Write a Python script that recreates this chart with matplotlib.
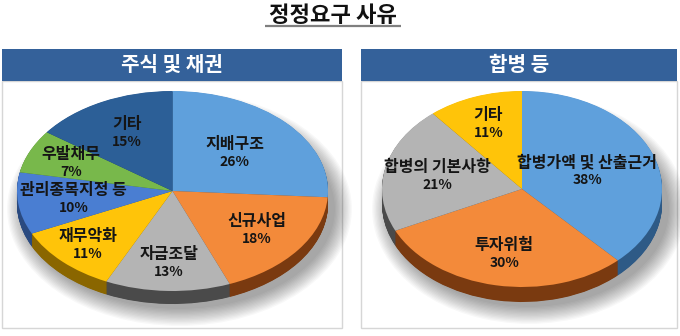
import matplotlib
matplotlib.use("Agg")
import matplotlib.pyplot as plt
from matplotlib.patches import Ellipse, Rectangle
import numpy as np

plt.rcParams["font.family"] = ["Noto Sans CJK KR", "DejaVu Sans"]

W, H = 680, 336

TITLE = "정정요구 사유"

# 주식 및 채권
STOCK_TITLE = "주식 및 채권"
stock_labels = ["지배구조", "신규사업", "자금조달", "재무악화", "관리종목지정 등", "우발채무", "기타"]
stock_share = [26, 18, 13, 11, 10, 7, 15]
stock_top = ["#5fa0dc", "#f38a3a", "#b4b4b4", "#ffc409", "#4a7ed2", "#78b84b", "#2c5f97"]
stock_side = ["#2e5a86", "#7a3a10", "#4a4a4a", "#8a6600", "#2a4a80", "#3e6a24", "#1a3a60"]

# 합병 등
MERGER_TITLE = "합병 등"
merger_labels = ["합병가액 및 산출근거", "투자위험", "합병의 기본사항", "기타"]
merger_share = [38, 30, 21, 11]
merger_top = ["#5fa0dc", "#f38a3a", "#b4b4b4", "#ffc409"]
merger_side = ["#2e5a86", "#7a3a10", "#4a4a4a", "#8a6600"]

HEADER_BLUE = "#34619a"


def px_axes(fig, x0, y0, x1, y1):
    # axes placed by pixel box, y measured from the top
    return fig.add_axes([x0 / W, 1 - y1 / H, (x1 - x0) / W, (y1 - y0) / H])


def draw_pie(fig, cx, cy, rx, ry, depth, values, labels, tops, sides, label_r):
    pad = 26
    ax = px_axes(fig, cx - rx - pad, cy - ry - pad, cx + rx + pad, cy + ry + depth + pad)
    ax.set_axis_off()
    d = depth / ry

    # soft drop shadow under the disc
    for i in range(14):
        g = 1.3 * i
        ax.add_patch(Ellipse((7 / rx, -d - 5 / ry), 2 * (rx + g) / rx, 2 * (ry + g) / ry,
                             color="black", alpha=0.026, lw=0, zorder=0))

    # extruded side: stack darker discs downward
    n = 30
    for k in range(n, 0, -1):
        ax.pie(values, colors=sides, startangle=90, counterclock=False,
               center=(0, -d * k / n), wedgeprops=dict(linewidth=0))
    wedges, _ = ax.pie(values, colors=tops, startangle=90, counterclock=False,
                       wedgeprops=dict(linewidth=0))

    ax.set_aspect("auto")
    ax.set_xlim(-1 - pad / rx, 1 + pad / rx)
    ax.set_ylim(-1 - d - pad / ry, 1 + pad / ry)

    for w, name, v, r in zip(wedges, labels, values, label_r):
        a = np.deg2rad((w.theta1 + w.theta2) / 2)
        x, y = r * np.cos(a), r * np.sin(a)
        ax.annotate(name, (x, y), xytext=(0, 9), textcoords="offset pixels",
                    ha="center", va="center", fontsize=11.5, fontweight="bold", color="#151515")
        ax.annotate(f"{v}%", (x, y), xytext=(0, -9), textcoords="offset pixels",
                    ha="center", va="center", fontsize=10, fontweight="bold", color="#151515")
    return ax


fig = plt.figure(figsize=(W / 100, H / 100), dpi=100)
bg = fig.add_axes([0, 0, 1, 1])
bg.set_xlim(0, W)
bg.set_ylim(H, 0)
bg.set_axis_off()

# title with underline
bg.text(333, 15.5, TITLE, ha="center", va="center", fontsize=16, fontweight="bold", color="#111111")
bg.plot([265, 401], [25.5, 25.5], color="#7f7f7f", lw=1.6, solid_capstyle="butt")

# panel frames and header bars
for x0, x1, head in [(2, 342, STOCK_TITLE), (361, 677, MERGER_TITLE)]:
    bg.add_patch(Rectangle((x0, 81), x1 - x0, 247, facecolor="white", edgecolor="#d6d6d6", lw=1))
    bg.add_patch(Rectangle((x0, 49), x1 - x0, 32, facecolor=HEADER_BLUE, edgecolor="none"))
    bg.text((x0 + x1) / 2, 64.5, head, ha="center", va="center", fontsize=14.5,
            fontweight="bold", color="white")

draw_pie(fig, 172.5, 191, 155.5, 100, 13, stock_share, stock_labels, stock_top, stock_side,
         [0.55, 0.67, 0.72, 0.77, 0.64, 0.71, 0.65])
draw_pie(fig, 522, 189, 140, 98, 15, merger_share, merger_labels, merger_top, merger_side,
         [0.5, 0.68, 0.62, 0.71])

fig.savefig("out.png", dpi=100)
